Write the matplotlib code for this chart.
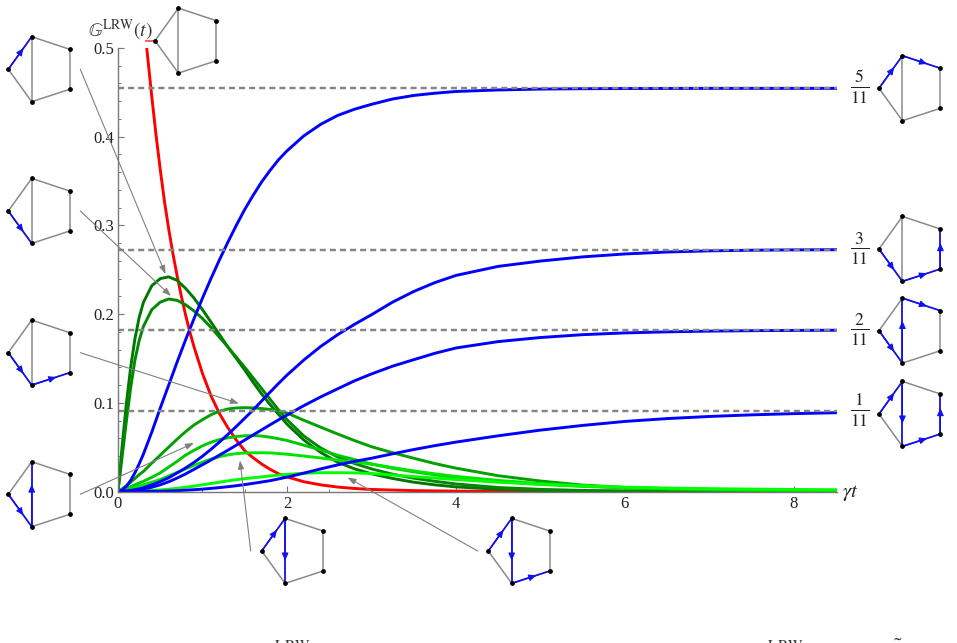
import matplotlib
matplotlib.use("Agg")
import matplotlib.pyplot as plt
from matplotlib.ticker import MultipleLocator

plt.rcParams['mathtext.fontset'] = 'stix'
plt.rcParams['font.family'] = ['Liberation Serif', 'DejaVu Serif']

# long time limits of the blue curves
limits = [1 / 11, 2 / 11, 3 / 11, 5 / 11]
limit_labels = [r"$\frac{1}{11}$", r"$\frac{2}{11}$", r"$\frac{3}{11}$", r"$\frac{5}{11}$"]

# red curve
red_t = [0.34, 0.4, 0.45, 0.5, 0.55, 0.6, 0.65, 0.7, 0.75, 0.8, 0.85, 0.9, 1.0, 1.1, 1.2, 1.3, 1.4, 1.5, 1.6, 1.7,
         1.8, 1.9, 2.0, 2.2, 2.4, 2.6, 2.8, 3.0, 3.5, 4.0, 5.0, 6.0]
red_g = [0.5, 0.445, 0.402, 0.363, 0.327, 0.296, 0.268, 0.243, 0.22, 0.199, 0.18, 0.163, 0.133, 0.108, 0.088, 0.072,
         0.058, 0.046, 0.038, 0.031, 0.025, 0.02, 0.0165, 0.011, 0.0075, 0.005, 0.0034, 0.0023, 0.001, 0.0004, 0.0, 0.0]

# common time grid of the blue and green curves
t = [0.0, 0.05, 0.1, 0.15, 0.2, 0.25, 0.3,
     0.4, 0.5, 0.6, 0.7, 0.8, 0.9,
     1.0, 1.1, 1.2, 1.3, 1.4, 1.5, 1.6, 1.7, 1.8, 1.9, 2.0,
     2.2, 2.4, 2.6, 2.8, 3.0,
     3.25, 3.5, 3.75, 4.0,
     4.5, 5.0, 5.5, 6.0, 6.5, 7.0, 7.5, 8.0, 8.51]

# blue curves
blue_5 = [0.0, 0.0015, 0.006, 0.0125, 0.021, 0.031, 0.042,
          0.067, 0.094, 0.12, 0.146, 0.171, 0.195,
          0.218, 0.24, 0.261, 0.281, 0.3, 0.318, 0.334, 0.349, 0.362, 0.374, 0.384,
          0.401, 0.414, 0.424, 0.431, 0.4365,
          0.4425, 0.4465, 0.449, 0.451,
          0.4527, 0.4537, 0.4541, 0.4543, 0.4544, 0.4545, 0.4545, 0.4545, 0.4545]
blue_3 = [0.0, 0.0002, 0.0006, 0.0012, 0.002, 0.003, 0.0042,
          0.0075, 0.0112, 0.0155, 0.021, 0.0265, 0.0328,
          0.0398, 0.0475, 0.0557, 0.0643, 0.0733, 0.0826, 0.092, 0.102, 0.112, 0.1218, 0.1312,
          0.1483, 0.1636, 0.1768, 0.1885, 0.1993,
          0.2135, 0.2255, 0.2355, 0.2436,
          0.2538, 0.2598, 0.2645, 0.2678, 0.27, 0.2713, 0.272, 0.2724, 0.2726]
blue_2 = [0.0, 0.0001, 0.0003, 0.0008, 0.0014, 0.002, 0.0028,
          0.0048, 0.0075, 0.011, 0.0152, 0.0198, 0.025,
          0.0302, 0.0355, 0.041, 0.0465, 0.0522, 0.058, 0.0638, 0.0695, 0.0752, 0.0808, 0.0862,
          0.0968, 0.1067, 0.1158, 0.1248, 0.1325,
          0.1413, 0.1486, 0.1558, 0.1618,
          0.169, 0.1736, 0.1768, 0.1788, 0.18, 0.1808, 0.1813, 0.1816, 0.1818]
blue_1 = [0.0, 0.0, 0.0, 0.0, 0.0, 0.00005, 0.0001,
          0.0002, 0.0003, 0.0006, 0.001, 0.0015, 0.002,
          0.0027, 0.0035, 0.0044, 0.0054, 0.0065, 0.0078, 0.0092, 0.0107, 0.0122, 0.0142, 0.0162,
          0.0207, 0.0255, 0.03, 0.034, 0.0375,
          0.0425, 0.0473, 0.0517, 0.0557,
          0.0628, 0.0692, 0.0745, 0.079, 0.0822, 0.0846, 0.0864, 0.0878, 0.0888]
blue_curves = [blue_5, blue_3, blue_2, blue_1]

# green curves, darkest first
green_colors = ["#007800", "#008800", "#00a000", "#00c800", "#00e400", "#00ff00"]
green_a = [0.0, 0.052, 0.1, 0.14, 0.172, 0.196, 0.213,
           0.232, 0.24, 0.242, 0.238, 0.229, 0.218,
           0.205, 0.191, 0.177, 0.163, 0.15, 0.137, 0.123, 0.11, 0.098, 0.087, 0.076,
           0.058, 0.044, 0.033, 0.0255, 0.02,
           0.0147, 0.0105, 0.0075, 0.0052,
           0.0025, 0.0012, 0.0005, 0.0002, 0.0, 0.0, 0.0, 0.0, 0.0]
green_b = [0.0, 0.04, 0.08, 0.117, 0.148, 0.17, 0.186,
           0.205, 0.2135, 0.217, 0.2155, 0.2105, 0.2035,
           0.195, 0.185, 0.174, 0.163, 0.1515, 0.14, 0.128, 0.116, 0.104, 0.092, 0.081,
           0.0625, 0.049, 0.039, 0.0315, 0.0255,
           0.0195, 0.015, 0.0115, 0.0085,
           0.0045, 0.0024, 0.0012, 0.0006, 0.0003, 0.0001, 0.0, 0.0, 0.0]
green_c = [0.0, 0.003, 0.0065, 0.0105, 0.0145, 0.019, 0.0225,
           0.032, 0.041, 0.05, 0.059, 0.0675, 0.075,
           0.081, 0.0865, 0.0905, 0.093, 0.0942, 0.0945, 0.0943, 0.0935, 0.0925, 0.091, 0.0885,
           0.0803, 0.0725, 0.0648, 0.0574, 0.0505,
           0.0437, 0.0375, 0.0315, 0.0263,
           0.0178, 0.0118, 0.0072, 0.0045, 0.003, 0.0019, 0.0012, 0.0008, 0.0005]
green_d = [0.0, 0.0016, 0.0035, 0.0055, 0.0075, 0.0095, 0.0115,
           0.016, 0.021, 0.0275, 0.034, 0.041, 0.0465,
           0.0515, 0.0555, 0.0585, 0.0605, 0.062, 0.0628, 0.063, 0.0625, 0.0612, 0.0595, 0.0575,
           0.0522, 0.0468, 0.0408, 0.036, 0.031,
           0.0262, 0.0222, 0.0188, 0.0158,
           0.0113, 0.0082, 0.0058, 0.004, 0.0028, 0.0019, 0.0014, 0.001, 0.0007]
green_e = [0.0, 0.001, 0.0022, 0.0035, 0.0048, 0.0062, 0.0075,
           0.0105, 0.0135, 0.0175, 0.0215, 0.0255, 0.0295,
           0.033, 0.0365, 0.0392, 0.0413, 0.0427, 0.0434, 0.0437, 0.0437, 0.0435, 0.0428, 0.042,
           0.04, 0.0378, 0.0355, 0.0332, 0.0308,
           0.027, 0.0232, 0.0199, 0.017,
           0.0125, 0.009, 0.0065, 0.0045, 0.0032, 0.0024, 0.0018, 0.0014, 0.001]
green_f = [0.0, 0.0, 0.0001, 0.0002, 0.0003, 0.0005, 0.0007,
           0.0012, 0.0018, 0.0026, 0.0036, 0.0048, 0.006,
           0.0075, 0.009, 0.0105, 0.012, 0.0133, 0.0145, 0.0155, 0.0165, 0.0175, 0.0185, 0.0193,
           0.0206, 0.0212, 0.0212, 0.021, 0.0203,
           0.0186, 0.0168, 0.0152, 0.0135,
           0.0105, 0.008, 0.0062, 0.0049, 0.0039, 0.0032, 0.0027, 0.0023, 0.002]
green_curves = [green_a, green_b, green_c, green_d, green_e, green_f]

x_ticks = [0, 2, 4, 6, 8]
y_ticks = [0.0, 0.1, 0.2, 0.3, 0.4, 0.5]
y_label = r"$\mathbb{G}^{\mathrm{LRW}}(t)$"
x_label = r"$\gamma t$"
caption_a = r"$\mathbb{G}^{\mathrm{LRW}}(t)$"
caption_b = r"$\mathbb{G}^{\mathrm{LRW}}(\gamma t)\quad =\quad \tilde{G}(\gamma t)$"

# pentagon graphs: vertices are L, T, UR, LR, B
pentagon = {"L": (0, 0), "T": (23.4, -32.6), "UR": (61.4, -20), "LR": (61.4, 20), "B": (23.4, 32.4)}
pentagon_edges = [("L", "T"), ("T", "UR"), ("UR", "LR"), ("LR", "B"), ("B", "L"), ("T", "B")]
graph_paths = [
    [("L", "T")],
    [("L", "B")],
    [("L", "B"), ("B", "LR")],
    [("L", "B"), ("B", "T")],
    [],
    [("L", "T"), ("T", "UR")],
    [("L", "B"), ("B", "LR"), ("LR", "UR")],
    [("L", "B"), ("B", "T"), ("T", "UR")],
    [("L", "T"), ("T", "B"), ("B", "LR"), ("LR", "UR")],
    [("L", "T"), ("T", "B")],
    [("L", "T"), ("T", "B"), ("B", "LR")],
]
graph_anchor = [(8.3, 69.3), (8.3, 211), (8.3, 352.7), (8.3, 494.3), (155, 40.7),
                (879, 88.3), (879, 249), (879, 330.7), (879, 414), (261.7, 551), (488.3, 551)]

# gray pointers from a graph to its curve
pointers = [((80.3, 69.3), (165.5, 274)), ((80.3, 211), (171, 296)), ((80.3, 352.7), (239, 403.5)),
            ((80.3, 494.3), (194, 443)), ((250.7, 551), (240, 460.5)), ((477.7, 551), (347.5, 477.5))]

fig = plt.figure(figsize=(9.57, 6.43), dpi=100)
W, H = 957, 643
ax = fig.add_axes([118 / W, 1 - 491.5 / H, (837 - 118) / W, (491.5 - 48) / H])
ax.set_xlim(0, 8.51)
ax.set_ylim(0, 0.5)

ax.plot(red_t, red_g, color="#ff0000", lw=2.1, clip_on=False, solid_capstyle='butt')
for g, c in zip(green_curves, green_colors):
    ax.plot(t, g, color=c, lw=2.1, solid_capstyle='butt')
for g in blue_curves:
    ax.plot(t, g, color="#0000ff", lw=2.1, solid_capstyle='butt')
for v in limits:
    ax.plot([0, 8.51], [v, v], color="#858585", lw=1.75, dashes=(2.5, 1.65))

for s in ["top", "right"]:
    ax.spines[s].set_visible(False)
for s in ["left", "bottom"]:
    ax.spines[s].set_color("#777777")
    ax.spines[s].set_linewidth(1.0)
ax.set_xticks(x_ticks)
ax.set_yticks(y_ticks)
ax.xaxis.set_minor_locator(MultipleLocator(0.5))
ax.yaxis.set_minor_locator(MultipleLocator(0.02))
ax.tick_params(which='major', direction='in', length=4.5, width=0.8, color="#777777", labelsize=12, labelcolor="#222222", pad=3)
ax.tick_params(which='minor', direction='in', length=2.5, width=0.7, color="#777777")
ax.set_yticklabels([f"{v:.1f}" for v in y_ticks])
ax.set_xticklabels([str(v) for v in x_ticks])

# overlay in pixel coordinates for labels, graphs and pointers
ov = fig.add_axes([0, 0, 1, 1], facecolor='none')
ov.set_xlim(0, W)
ov.set_ylim(H, 0)
ov.axis('off')

ov.text(120, 30, y_label, fontsize=14, color="#333333", ha='center', va='center')
ov.text(850.5, 493, x_label, fontsize=15, color="#222222", ha='center', va='center')
for v, lab in zip(limits, limit_labels):
    yp = 491.5 - v * 887
    ov.text(859.5, yp - 0.5, lab, fontsize=18, color="#222222", ha='center', va='center')

for (start, end) in pointers:
    ov.annotate("", xy=end, xytext=start,
                arrowprops=dict(arrowstyle='-|>,head_length=0.5,head_width=0.18', color="#808080", lw=0.8,
                                shrinkA=0, shrinkB=0))


def edge_line(anchor, a, b):
    x0, y0 = anchor
    return (x0 + pentagon[a][0], y0 + pentagon[a][1]), (x0 + pentagon[b][0], y0 + pentagon[b][1])


for anchor, path in zip(graph_anchor, graph_paths):
    for a, b in pentagon_edges:
        p, q = edge_line(anchor, a, b)
        ov.plot([p[0], q[0]], [p[1], q[1]], color="#8a8a8a", lw=1.1, zorder=3)
    for a, b in path:
        p, q = edge_line(anchor, a, b)
        ov.plot([p[0], q[0]], [p[1], q[1]], color="#1010f0", lw=1.2, zorder=4)
        mid = (p[0] + 0.65 * (q[0] - p[0]), p[1] + 0.65 * (q[1] - p[1]))
        ov.annotate("", xy=mid, xytext=p,
                    arrowprops=dict(arrowstyle='-|>,head_length=0.45,head_width=0.2', color="#1010f0", lw=0.8,
                                    shrinkA=0, shrinkB=0), zorder=4)
    xs = [anchor[0] + pentagon[k][0] for k in pentagon]
    ys = [anchor[1] + pentagon[k][1] for k in pentagon]
    ov.scatter(xs, ys, s=12, color="black", zorder=5, linewidths=0)

# short red stub beside the starting graph
ov.plot([146, 154], [40.7, 40.7], color="#ff5050", lw=1.3)

# caption line running off the lower edge
ov.text(296, 651, caption_a, fontsize=16, color="#333333", ha='center', va='center', clip_on=False)
ov.text(752, 651, caption_b, fontsize=16, color="#333333", ha='left', va='center', clip_on=False)

fig.savefig("out.png", dpi=100)
